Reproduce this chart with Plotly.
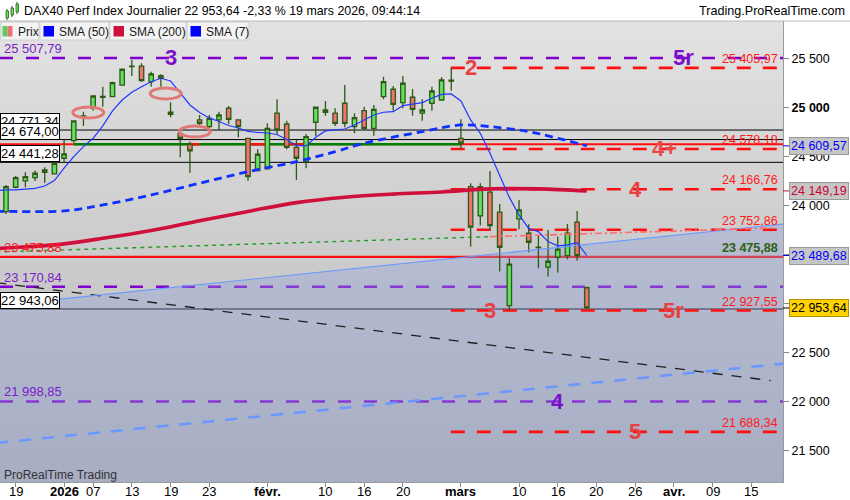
import plotly.graph_objects as go

# ---------------- data ----------------
candle_dates = [
    "2025-12-18", "2025-12-19", "2025-12-22", "2025-12-23", "2025-12-29", "2025-12-30",
    "2026-01-02", "2026-01-05", "2026-01-06", "2026-01-07", "2026-01-08", "2026-01-09",
    "2026-01-12", "2026-01-13", "2026-01-14", "2026-01-15", "2026-01-16",
    "2026-01-19", "2026-01-20", "2026-01-21", "2026-01-22", "2026-01-23",
    "2026-01-26", "2026-01-27", "2026-01-28", "2026-01-29", "2026-01-30",
    "2026-02-02", "2026-02-03", "2026-02-04", "2026-02-05", "2026-02-06",
    "2026-02-09", "2026-02-10", "2026-02-11", "2026-02-12", "2026-02-13",
    "2026-02-16", "2026-02-17", "2026-02-18", "2026-02-19", "2026-02-20",
    "2026-02-23", "2026-02-24", "2026-02-25", "2026-02-26", "2026-02-27",
    "2026-03-02", "2026-03-03", "2026-03-04", "2026-03-05", "2026-03-06",
    "2026-03-09", "2026-03-10", "2026-03-11", "2026-03-12", "2026-03-13",
    "2026-03-16", "2026-03-17", "2026-03-18", "2026-03-19"]
future_dates = [
    "2026-03-20", "2026-03-23", "2026-03-24", "2026-03-25", "2026-03-26", "2026-03-27",
    "2026-03-30", "2026-03-31", "2026-04-01", "2026-04-02", "2026-04-07", "2026-04-08",
    "2026-04-09", "2026-04-10", "2026-04-13", "2026-04-14", "2026-04-15", "2026-04-16",
    "2026-04-17", "2026-04-20", "2026-04-21"]
prior_date = "2025-12-17"

opens = [23938, 24187, 24251, 24285, 24365, 24323,
         24483, 24663, 24895, 24994, 25105, 25112,
         25231, 25420, 25425, 25265, 25326,
         24932, 24738, 24626, 24874, 24806,
         24874, 24994, 24874, 24687, 24357,
         24374, 24943, 24833, 24595, 24448,
         24851, 24953, 24943, 25045, 24806,
         24969, 24789, 25112, 25188, 25051,
         25106, 24943, 25045, 25078, 25280,
         24687, 24193, 23894, 24136, 23932,
         22978, 23863, 23717, 23575, 23370,
         23472, 23489, 23830, 23160]
highs = [24210, 24302, 24341, 24357, 24391, 24448,
         24670, 24864, 24959, 25119, 25214, 25265,
         25400, 25487, 25453, 25367, 25340,
         25055, 24755, 24653, 24925, 24925,
         24959, 25017, 24874, 24687, 24575,
         24840, 25085, 24867, 24670, 24731,
         25004, 25068, 24994, 25231, 24943,
         25010, 25027, 25316, 25221, 25323,
         25191, 25085, 25214, 25310, 25406,
         24881, 24228, 24228, 24353, 24016,
         23462, 24057, 23809, 23690, 23751,
         23683, 23812, 23945, 23172]
lows = [23914, 24177, 24187, 24251, 24234, 24323,
        24432, 24642, 24813, 24969, 25010, 25112,
        25231, 25323, 25265, 25214, 25214,
        24902, 24493, 24336, 24816, 24772,
        24772, 24833, 24698, 24254, 24357,
        24374, 24731, 24575, 24262, 24381,
        24711, 24918, 24813, 24800, 24738,
        24772, 24714, 25085, 24969, 24994,
        24918, 24867, 24969, 25071, 25173,
        24578, 23581, 23795, 23751, 23325,
        22928, 23758, 23523, 23360, 23274,
        23315, 23452, 23438, 22945]
closes = [24193, 24285, 24295, 24330, 24340, 24432,
          24527, 24864, 24915, 25119, 25115, 25255,
          25392, 25425, 25275, 25344, 25300,
          24953, 24687, 24558, 24840, 24891,
          24925, 24881, 24806, 24295, 24524,
          24789, 24772, 24595, 24483, 24704,
          25004, 24976, 24840, 24840, 24898,
          24789, 24983, 25265, 25034, 25249,
          24983, 24976, 25170, 25283, 25270,
          24636, 23779, 24193, 23795, 23574,
          23401, 23955, 23625, 23570, 23431,
          23554, 23717, 23489, 22953.64]

sma7_vals = [24150,
             24160, 24160, 24165, 24175, 24200, 24255,
             24381, 24500, 24602, 24687, 24813, 24966,
             25078, 25157, 25214, 25265, 25300,
             25272, 25150, 25027, 24951, 24895,
             24859, 24818, 24792, 24757, 24747,
             24741, 24726, 24675, 24614, 24609,
             24698, 24762, 24772, 24782, 24823,
             24874, 24925, 24953, 24959, 25020,
             25037, 25051, 25096, 25136, 25140,
             25068, 24874, 24738, 24534, 24313,
             24083, 23904, 23766, 23734, 23632,
             23588, 23598, 23621, 23489.68]

sma50_dates = ["2025-12-17", "2025-12-18", "2026-01-02", "2026-01-08", "2026-01-15", "2026-01-22",
               "2026-01-29", "2026-02-05", "2026-02-11", "2026-02-16", "2026-02-24",
               "2026-03-02", "2026-03-05", "2026-03-11", "2026-03-16", "2026-03-19"]
sma50_vals = [23940, 23940, 23945, 24006, 24108, 24228,
              24346, 24448, 24550, 24636, 24755,
              24823, 24806, 24755, 24687, 24609.57]

sma200_dates = ["2025-12-17", "2025-12-18", "2025-12-30", "2026-01-08", "2026-01-15", "2026-01-22",
                "2026-01-29", "2026-02-05", "2026-02-12", "2026-02-19", "2026-02-26",
                "2026-03-05", "2026-03-12", "2026-03-19"]
sma200_vals = [23560, 23567, 23598, 23665, 23745, 23845,
               23940, 24030, 24085, 24117, 24139,
               24170, 24170, 24149.19]

black_levels = [24771.34, 24674.00, 24441.28, 22943.06]
purple_levels = [25507.79, 23170.84, 21998.85]
red_dash_levels = [25405.97, 24578.18, 24166.76, 23752.86, 22927.55, 21688.34]
red_dash_start = "2026-02-27"
red_solid_levels = [23475.88, 24626.0]
green_level = 24626.0
green_span = ("2026-01-05", "2026-03-02")
red_overlay_spans = [("2026-01-21", "2026-01-22"), ("2026-01-29", "2026-02-02"),
                     ("2026-02-04", "2026-02-06")]

trend_black = [("2025-12-17", 23212), ("2026-04-17", 22212)]
trend_blue_dash = [("2025-12-17", 21575), ("2026-04-21", 22392)]
trend_blue_solid = [("2025-12-17", 22976), ("2026-04-21", 23818)]
trend_green = [("2025-12-17", 23525), ("2026-03-05", 23682)]
trend_red_dot = [("2026-03-05", 23682), ("2026-04-17", 23770)]

wave_labels = [("3", "2026-01-19", 25507.79, "#7a10c8"), ("5r", "2026-04-02", 25507.79, "#7a10c8"),
               ("2", "2026-03-03", 25405.97, "#e8403f"), ("4+", "2026-03-31", 24578.18, "#e84a4a"),
               ("4", "2026-03-26", 24166.76, "#e8403f"), ("3", "2026-03-05", 22927.55, "#e8403f"),
               ("5r", "2026-04-01", 22927.55, "#e8403f"), ("4", "2026-03-16", 21998.85, "#7a10c8"),
               ("5", "2026-03-26", 21688.34, "#e8403f")]

ellipses = [("2026-01-05", "2026-01-08", 24895, 25007),
            ("2026-01-15", "2026-01-20", 25089, 25201),
            ("2026-01-20", "2026-01-23", 24701, 24813)]

tick_dates = ["2025-12-19", "2026-01-02", "2026-01-07", "2026-01-13", "2026-01-19", "2026-01-23",
              "2026-02-02", "2026-02-10", "2026-02-16", "2026-02-20", "2026-03-02", "2026-03-10",
              "2026-03-16", "2026-03-20", "2026-03-26", "2026-04-01", "2026-04-09", "2026-04-15"]
tick_labels = ["19", "<b>2026</b>", "07", "13", "19", "23", "<b>févr.</b>", "10", "16", "20",
               "<b>mars</b>", "10", "16", "20", "26", "<b>avr.</b>", "09", "15"]
y_ticks = [21500, 22000, 22500, 23000, 23500, 24000, 24500, 25000, 25500]

last_price = 22953.64
sma50_last, sma200_last, sma7_last = 24609.57, 24149.19, 23489.68

# ---------------- helpers ----------------
all_days = [prior_date] + candle_dates + future_dates
pos = {d: k for k, d in enumerate(all_days)}
FONT = "Liberation Sans, Arial, sans-serif"
W, H, T = 783.0, 461.0, 21.0
X_LO, X_HI = 0.38, 81.27
LINE_END = 80.65


def PX(px):
    return px / W


def PY(py):
    return (T + H - py) / H


def fmt(v):
    return f"{v:,.2f}".replace(",", " ").replace(".", ",")


def yfmt(v):
    return f"{v:,}".replace(",", " ")


fig = go.Figure()


def add_line(pts, color, width, dash):
    fig.add_trace(go.Scatter(x=[pos[p[0]] for p in pts], y=[p[1] for p in pts], mode="lines",
                             line=dict(color=color, width=width, dash=dash), hoverinfo="skip"))


add_line(trend_black, "#202020", 1.3, "10px,9px")
add_line(trend_blue_dash, "#6a98ff", 2.5, "12px,11px")
add_line(trend_blue_solid, "#6a98ff", 1.1, "solid")
add_line(trend_green, "#2a9a2a", 1.4, "4px,4px")
add_line(trend_red_dot, "#ff6a6a", 1.6, "7px,3px,2px,3px")

fig.add_trace(go.Scatter(x=[pos[d] for d in sma200_dates], y=sma200_vals, mode="lines",
                         line=dict(color="#d0103c", width=3.6, shape="spline"), hoverinfo="skip"))
fig.add_trace(go.Scatter(x=[pos[d] for d in sma50_dates], y=sma50_vals, mode="lines",
                         line=dict(color="#1030ff", width=2.8, dash="8px,5px", shape="spline"),
                         hoverinfo="skip"))

fig.add_trace(go.Candlestick(
    x=[pos[d] for d in candle_dates], open=opens, high=highs, low=lows, close=closes,
    increasing=dict(line=dict(color="#2d5a14", width=1.3), fillcolor="#62e062"),
    decreasing=dict(line=dict(color="#2d5a14", width=1.3), fillcolor="#f07272"),
    whiskerwidth=0, hoverinfo="skip"))

fig.add_trace(go.Scatter(x=[pos[d] for d in [prior_date] + candle_dates], y=sma7_vals, mode="lines",
                         line=dict(color="#2038ff", width=1.2), hoverinfo="skip"))

# ---------------- shapes ----------------
shapes = []
n = 46
for k in range(n):
    g = int(round(182 + (226 - 182) * (k + 0.5) / n))
    shapes.append(dict(type="rect", xref="paper", yref="paper", x0=0, x1=1, y0=k / n, y1=(k + 1) / n,
                       fillcolor=f"rgb({g},{g},{g})", line=dict(width=0), layer="below"))
(bd0, bv0), (bd1, bv1) = trend_blue_solid
shapes.append(dict(type="path", xref="x", yref="y", layer="below", line=dict(width=0),
                   fillcolor="rgba(142,157,218,0.36)",
                   path=f"M {pos[bd0]},{bv0} L {pos[bd1]},{bv1} L {pos[bd1]},20000 L {pos[bd0]},20000 Z"))

for v in black_levels:
    shapes.append(dict(type="line", xref="paper", yref="y", x0=0, x1=1, y0=v, y1=v,
                       line=dict(color="black", width=1), layer="below"))
for v in red_solid_levels:
    shapes.append(dict(type="line", xref="paper", yref="y", x0=0, x1=1, y0=v, y1=v,
                       line=dict(color="#ff1010", width=2.2), layer="below"))
shapes.append(dict(type="line", xref="x", yref="y", x0=pos[green_span[0]], x1=pos[green_span[1]],
                   y0=green_level, y1=green_level, line=dict(color="#008000", width=2.4), layer="below"))
for a, b in red_overlay_spans:
    shapes.append(dict(type="line", xref="x", yref="y", x0=pos[a], x1=pos[b],
                       y0=green_level, y1=green_level, line=dict(color="#ff1010", width=2.4), layer="below"))
for v in purple_levels:
    shapes.append(dict(type="line", xref="paper", yref="y", x0=0, x1=1, y0=v, y1=v,
                       line=dict(color="#8000d0", width=2.6, dash="13px,13px"), layer="below"))
for v in red_dash_levels:
    shapes.append(dict(type="line", xref="x", yref="y", x0=pos[red_dash_start] - 0.05, x1=LINE_END,
                       y0=v, y1=v, line=dict(color="#ff1010", width=2.6, dash="14px,12px"),
                       layer="below"))
for a, b, y0, y1 in ellipses:
    shapes.append(dict(type="circle", xref="x", yref="y", x0=pos[a] - 0.1, x1=pos[b] + 0.1, y0=y0, y1=y1,
                       line=dict(color="#e07a78", width=3), layer="above"))

# header candle icon
for cx, top, bot, wt, wb in [(6, 11, 18, 9, 20), (11, 8, 15, 6, 17), (16, 4, 12, 2, 14)]:
    shapes.append(dict(type="line", xref="paper", yref="paper", x0=PX(cx + 1), x1=PX(cx + 1),
                       y0=PY(wt), y1=PY(wb), line=dict(color="#2d5a14", width=1)))
    shapes.append(dict(type="rect", xref="paper", yref="paper", x0=PX(cx), x1=PX(cx + 2.5),
                       y0=PY(bot), y1=PY(top), fillcolor="#62e062", line=dict(color="#2d5a14", width=0.8)))

legend_boxes = [(1, 39, None, "Prix"), (40, 109, "#0000ff", "SMA (50)"),
                (110, 186, "#d0103c", "SMA (200)"), (187, 249, "#0000ff", "SMA (7)")]
annotations = []
for x0, x1, col, txt in legend_boxes:
    shapes.append(dict(type="rect", xref="paper", yref="paper", x0=PX(x0), x1=PX(x1), y0=PY(40), y1=PY(22),
                       fillcolor="#f3f3f3", line=dict(color="#cfcfcf", width=1)))
    if col is None:
        shapes.append(dict(type="rect", xref="paper", yref="paper", x0=PX(2.5), x1=PX(7.5), y0=PY(36.5),
                           y1=PY(26), fillcolor="#5ccc5c", line=dict(width=0)))
        shapes.append(dict(type="rect", xref="paper", yref="paper", x0=PX(7.5), x1=PX(12.5), y0=PY(36.5),
                           y1=PY(26), fillcolor="#ee7070", line=dict(width=0)))
        tx = 16
    else:
        shapes.append(dict(type="rect", xref="paper", yref="paper", x0=PX(x0 + 3.5), x1=PX(x0 + 14),
                           y0=PY(36.5), y1=PY(26), fillcolor=col, line=dict(width=0)))
        tx = x0 + 17
    annotations.append(dict(xref="paper", yref="paper", x=PX(tx), y=PY(31.5), xanchor="left",
                            yanchor="middle", text=txt, showarrow=False,
                            font=dict(family=FONT, size=12, color="#1a1a1a")))

annotations.append(dict(xref="paper", yref="paper", x=PX(22), y=PY(11), xanchor="left", yanchor="middle",
                        text="DAX40 Perf Index Journalier 22 953,64 -2,33 % 19 mars 2026, 09:44:14",
                        showarrow=False, font=dict(family=FONT, size=12.4, color="black")))
annotations.append(dict(xref="paper", yref="paper", x=PX(847), y=PY(11), xanchor="right", yanchor="middle",
                        text="Trading.ProRealTime.com", showarrow=False,
                        font=dict(family=FONT, size=12.6, color="black")))
shapes.append(dict(type="line", xref="paper", yref="paper", x0=0, x1=PX(850), y0=PY(21), y1=PY(21),
                   line=dict(color="#b8b8b8", width=1)))

for v in black_levels:
    annotations.append(dict(xref="paper", yref="y", x=0, y=v, xanchor="left", yanchor="bottom",
                            text=fmt(v), showarrow=False, bgcolor="white", bordercolor="black",
                            borderwidth=1, borderpad=0, font=dict(family=FONT, size=13, color="black")))
for v in purple_levels:
    annotations.append(dict(xref="paper", yref="y", x=PX(2), y=v, xanchor="left", yanchor="bottom",
                            text=fmt(v), showarrow=False, font=dict(family=FONT, size=13, color="#7a20c8")))
annotations.append(dict(xref="paper", yref="y", x=PX(2), y=red_solid_levels[0], xanchor="left",
                        yanchor="bottom", text=fmt(red_solid_levels[0]), showarrow=False,
                        font=dict(family=FONT, size=13, color="#ff2020")))
for v in red_dash_levels + [red_solid_levels[0]]:
    annotations.append(dict(xref="paper", yref="y", x=PX(780), y=v, xanchor="right", yanchor="bottom",
                            text=fmt(v), showarrow=False, font=dict(family=FONT, size=12.5, color="#ff1a1a")))
annotations.append(dict(xref="paper", yref="y", x=PX(780), y=red_solid_levels[0], xanchor="right",
                        yanchor="bottom", text="<b>" + fmt(red_solid_levels[0]) + "</b>", showarrow=False,
                        font=dict(family=FONT, size=12.5, color="#1f6e1f")))
for txt, d, v, col in wave_labels:
    annotations.append(dict(xref="x", yref="y", x=pos[d], y=v, xanchor="center", yanchor="middle",
                            text="<b>" + txt + "</b>", showarrow=False,
                            font=dict(family=FONT, size=22, color=col)))
annotations.append(dict(xref="paper", yref="paper", x=PX(2), y=PY(475), xanchor="left", yanchor="middle",
                        text="ProRealTime Trading", showarrow=False,
                        font=dict(family=FONT, size=12, color="#333333")))
for v, fg, bg, bc in [(sma50_last, "#0000ff", "#c6c6c6", "#999999"),
                      (sma200_last, "#cc0033", "#c6c6c6", "#999999"),
                      (sma7_last, "#0000ff", "#c6c6c6", "#999999"),
                      (last_price, "black", "#ffd200", "#b09000")]:
    annotations.append(dict(xref="paper", yref="y", x=PX(789), y=v, xanchor="left", yanchor="middle",
                            text=fmt(v), showarrow=False, bgcolor=bg, bordercolor=bc, borderwidth=1,
                            borderpad=1, font=dict(family=FONT, size=12.5, color=fg)))
    shapes.append(dict(type="line", xref="paper", yref="y", x0=PX(783), x1=PX(789), y0=v, y1=v,
                       line=dict(color=fg, width=1)))

for d, lab in zip(tick_dates, tick_labels):
    annotations.append(dict(xref="x", yref="paper", x=pos[d], y=PY(491), xanchor="center", yanchor="middle",
                            text=lab, showarrow=False, font=dict(family=FONT, size=13, color="black")))

fig.update_layout(
    width=850, height=500, autosize=False,
    margin=dict(l=0, r=67, t=21, b=18),
    paper_bgcolor="white", plot_bgcolor="#d0d0d0",
    showlegend=False, hovermode=False, boxgap=0.35,
    font=dict(family=FONT, size=12.5, color="black"),
    shapes=shapes, annotations=annotations,
    xaxis=dict(range=[X_LO, X_HI], tickmode="array", tickvals=[pos[d] for d in tick_dates],
               showticklabels=False, showgrid=False, zeroline=False, ticks="outside", ticklen=4,
               tickcolor="#888888", showline=True, linecolor="#9a9a9a",
               rangeslider=dict(visible=False)),
    yaxis=dict(side="right", range=[21176, 25885], tickmode="array", tickvals=y_ticks,
               ticktext=[("<b>" + yfmt(v) + "</b>") if v == 25000 else yfmt(v) for v in y_ticks],
               showgrid=False, zeroline=False, ticks="outside", ticklen=5, tickcolor="#888888",
               showline=True, linecolor="#9a9a9a", tickfont=dict(family=FONT, size=12.5)),
)

fig.write_html("out.html", config={"displayModeBar": False},
               post_script="document.body.style.margin='0px';")
